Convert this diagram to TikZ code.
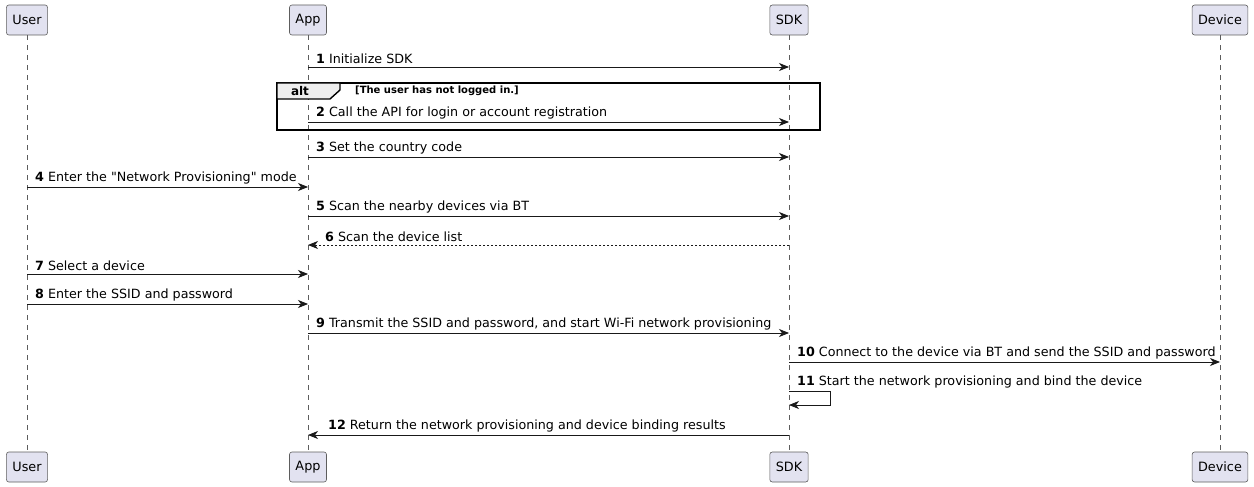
\documentclass[tikz,border=0pt]{standalone}
\usepackage{fontspec}
\setmainfont{DejaVu Sans}
\newfontfamily\plainfont{DejaVu Sans}[Ligatures=ResetAll]
\newcommand{\sq}{{\plainfont\symbol{34}}}
\usetikzlibrary{arrows.meta}
\definecolor{partfill}{HTML}{E2E2F0}
\definecolor{partdraw}{HTML}{181818}
\definecolor{lifecol}{HTML}{181818}
\definecolor{altfill}{HTML}{EEEEEE}
\tikzset{
  part/.style={draw=partdraw!70, fill=partfill, rounded corners=2.5pt, line width=0.6pt,
    minimum height=30pt, inner xsep=6pt, font=\fontsize{12.8}{15}\selectfont},
  lifeline/.style={draw=lifecol!70, line width=0.5pt, dash pattern=on 5pt off 5pt},
  msg/.style={draw=black!90, line width=0.8pt, -{Stealth[length=10pt,width=8pt,inset=3pt]}},
  ret/.style={msg, dash pattern=on 2pt off 2pt},
  lbl/.style={anchor=south west, inner sep=0pt, font=\fontsize{12.7}{14}\selectfont},
  altbox/.style={draw=black, line width=1.4pt},
}
\begin{document}
\begin{tikzpicture}[x=1pt,y=-1pt]
\useasboundingbox (0,0) rectangle (1254,487);
% participants
\node[part] (userT) at (27,20) {User};
\node[part] (appT) at (308,20) {App};
\node[part] (sdkT) at (789,20) {SDK};
\node[part] (devT) at (1220,20) {Device};
\node[part] (userB) at (27,467) {User};
\node[part] (appB) at (308,467) {App};
\node[part] (sdkB) at (789,467) {SDK};
\node[part] (devB) at (1220,467) {Device};
\draw[lifeline] (userT.south) -- (userB.north);
\draw[lifeline] (appT.south) -- (appB.north);
\draw[lifeline] (sdkT.south) -- (sdkB.north);
\draw[lifeline] (devT.south) -- (devB.north);
% alt fragment
\draw[altbox] (277,83) rectangle (820,130);
\filldraw[altbox, fill=altfill] (277,83) -- (340,83) -- (340,90) -- (330,99) -- (277,99) -- cycle;
\node[font=\bfseries\fontsize{12}{14}\selectfont, anchor=center] (altlbl) at (300,91.5) {alt};
\node[font=\bfseries\fontsize{10}{12}\selectfont, anchor=west, inner sep=0pt] (guard) at (355,91) {[The user has not logged in.]};
% messages
\draw[msg] (appT.center |- 0,67) -- (sdkT.center |- 0,67);
\node[lbl] (l1) at (316,64) {\textbf{1} Initialize SDK};
\draw[msg] (appT.center |- 0,122) -- (sdkT.center |- 0,122);
\node[lbl] (l2) at (316,119) {\textbf{2} Call the API for login or account registration};
\draw[msg] (appT.center |- 0,157) -- (sdkT.center |- 0,157);
\node[lbl] (l3) at (316,154) {\textbf{3} Set the country code};
\draw[msg] (userT.center |- 0,187) -- (appT.center |- 0,187);
\node[lbl] (l4) at (35,184) {\textbf{4} Enter the \sq Network Provisioning\sq\ mode};
\draw[msg] (appT.center |- 0,216) -- (sdkT.center |- 0,216);
\node[lbl] (l5) at (316,213) {\textbf{5} Scan the nearby devices via BT};
\draw[ret] (sdkT.center |- 0,245) -- (appT.center |- 0,245);
\node[lbl] (l6) at (325,242) {\textbf{6} Scan the device list};
\draw[msg] (userT.center |- 0,274) -- (appT.center |- 0,274);
\node[lbl] (l7) at (35,271) {\textbf{7} Select a device};
\draw[msg] (userT.center |- 0,304) -- (appT.center |- 0,304);
\node[lbl] (l8) at (35,301) {\textbf{8} Enter the SSID and password};
\draw[msg] (appT.center |- 0,333) -- (sdkT.center |- 0,333);
\node[lbl] (l9) at (316,330) {\textbf{9} Transmit the SSID and password, and start Wi-Fi network provisioning};
\draw[msg] (sdkT.center |- 0,362) -- (devT.center |- 0,362);
\node[lbl] (l10) at (797,359) {\textbf{10} Connect to the device via BT and send the SSID and password};
\draw[msg] (sdkT.center |- 0,391) -- (830,391) -- (830,405) -- (sdkT.center |- 0,405);
\node[lbl] (l11) at (797,388) {\textbf{11} Start the network provisioning and bind the device};
\draw[msg] (sdkT.center |- 0,435) -- (appT.center |- 0,435);
\node[lbl] (l12) at (328,432) {\textbf{12} Return the network provisioning and device binding results};
\end{tikzpicture}
\end{document}
